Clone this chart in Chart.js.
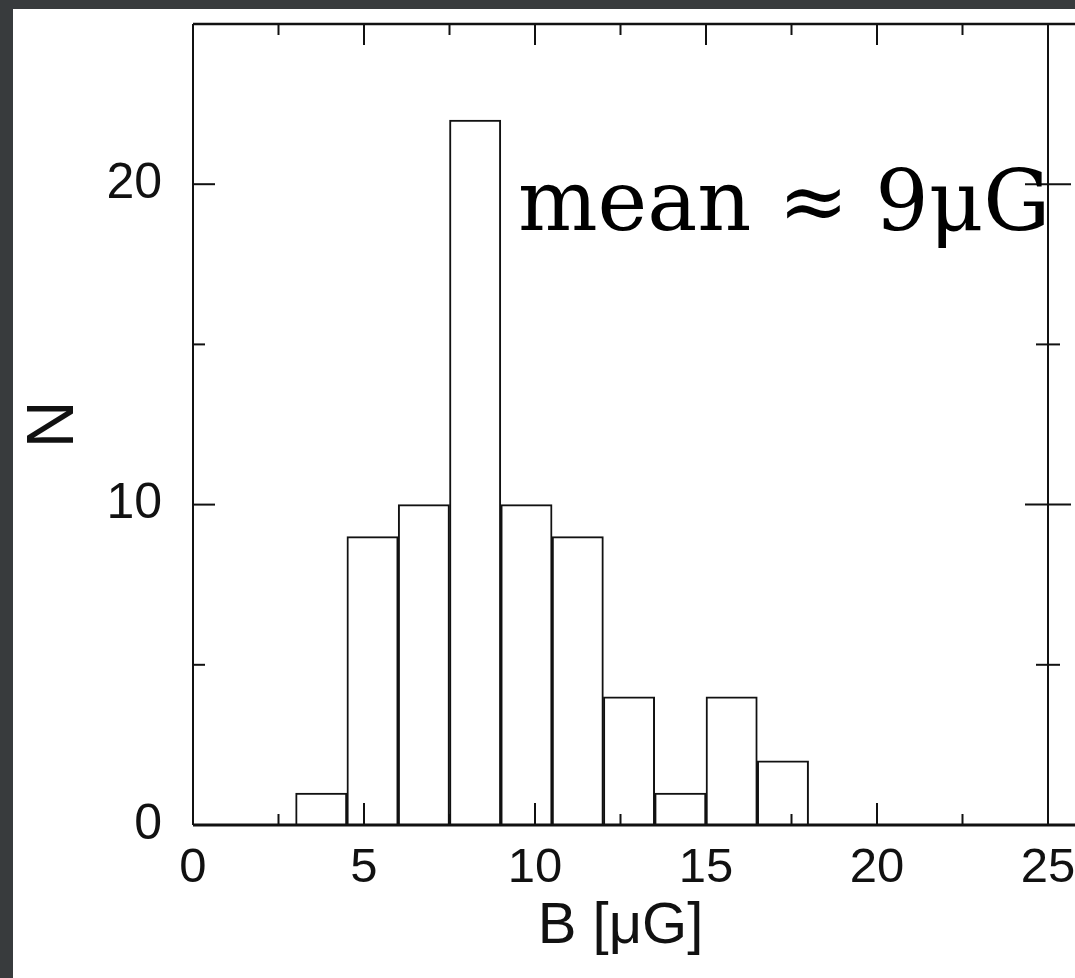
<!DOCTYPE html>
<html>
<head>
<meta charset="utf-8">
<script src="https://cdn.jsdelivr.net/npm/chart.js@4.4.1/dist/chart.umd.min.js"></script>
<style>
  body { margin: 0; background: #383b3d; overflow: hidden; width: 1075px; height: 978px; }
  #panel { position: absolute; left: 13px; top: 9px; width: 1062px; height: 969px; background: #fff; overflow: hidden; }
  canvas { display: block; }
</style>
</head>
<body>
<div id="panel">
  <canvas id="histChart" width="1100" height="969"></canvas>
</div>
<script>
// histogram bins (B in microgauss) and counts
const binEdges = [3, 4.5, 6, 7.5, 9, 10.5, 12, 13.5, 15, 16.5, 18];
const binCounts = [1, 9, 10, 22, 10, 9, 4, 1, 4, 2];

// axis ticks
const xMajorTicks = [0, 5, 10, 15, 20, 25];
const xMinorTicks = [2.5, 7.5, 12.5, 17.5, 22.5];
const yMajorTicks = [0, 10, 20];
const yMinorTicks = [5, 15];

const noteText = 'mean \u2248 9\u03BCG';
const notePos = { x: 9.5, y: 18.56 };

const binCenters = binCounts.map((_, i) => (binEdges[i] + binEdges[i + 1]) / 2);
const histData = binCenters.map((c, i) => ({ x: c, y: binCounts[i] }));

const sansFont = "'Liberation Sans', Arial, sans-serif";
const ink = '#111';

// frame, inward ticks and the mean note
const frameAndTicks = {
  id: 'frameAndTicks',
  afterDatasetsDraw(chart) {
    const { ctx, chartArea: a, scales: { x, y } } = chart;
    ctx.save();
    ctx.strokeStyle = ink;
    ctx.lineCap = 'butt';

    const line = (x1, y1, x2, y2, w) => {
      ctx.lineWidth = w;
      ctx.beginPath();
      ctx.moveTo(x1, y1);
      ctx.lineTo(x2, y2);
      ctx.stroke();
    };

    // box
    line(a.left, a.bottom, a.right + 60, a.bottom, 3);
    line(a.left, a.top, a.right + 60, a.top, 2.5);
    line(a.left, a.top, a.left, a.bottom, 2);
    line(a.right, a.top, a.right, a.bottom, 2);

    // x ticks (bottom and top, inward)
    xMajorTicks.forEach(v => {
      const px = x.getPixelForValue(v);
      line(px, a.bottom, px, a.bottom - 22, 2);
      line(px, a.top, px, a.top + 21, 2);
    });
    xMinorTicks.forEach(v => {
      const px = x.getPixelForValue(v);
      line(px, a.bottom, px, a.bottom - 11, 2);
      line(px, a.top, px, a.top + 11, 2);
    });

    // y ticks (left inward, right crossing)
    yMajorTicks.forEach(v => {
      const py = y.getPixelForValue(v);
      line(a.left, py, a.left + 22, py, 2);
      if (v > 0) line(a.right - 23, py, a.right + 23, py, 2);
    });
    yMinorTicks.forEach(v => {
      const py = y.getPixelForValue(v);
      line(a.left, py, a.left + 12, py, 2);
      line(a.right - 12, py, a.right + 12, py, 2);
    });

    // note
    ctx.fillStyle = '#000';
    ctx.font = "84px 'DejaVu Serif', serif";
    ctx.textAlign = 'left';
    ctx.textBaseline = 'alphabetic';
    ctx.fillText(noteText, x.getPixelForValue(notePos.x), y.getPixelForValue(notePos.y));
    ctx.restore();
  }
};

const ctx = document.getElementById('histChart').getContext('2d');
new Chart(ctx, {
  type: 'bar',
  data: {
    datasets: [{
      data: histData,
      backgroundColor: '#fff',
      borderColor: ink,
      borderWidth: 2,
      barPercentage: 1,
      categoryPercentage: 1
    }]
  },
  options: {
    responsive: false,
    animation: false,
    devicePixelRatio: 1,
    layout: { padding: { top: 15, right: 65, bottom: 0, left: 0 } },
    plugins: {
      legend: { display: false },
      tooltip: { enabled: false }
    },
    scales: {
      x: {
        type: 'linear',
        offset: false,
        min: 0,
        max: 25,
        grid: { display: false, offset: false },
        border: { display: false },
        ticks: {
          stepSize: 5,
          includeBounds: false,
          padding: 6,
          color: ink,
          font: { family: sansFont, size: 49 },
          maxRotation: 0
        },
        title: {
          display: true,
          text: 'B [\u03BCG]',
          color: ink,
          font: { family: sansFont, size: 58, lineHeight: 1 },
          padding: { top: 0, bottom: 22 }
        },
        afterFit: s => { s.height = 153; }
      },
      y: {
        min: 0,
        max: 25,
        grid: { display: false },
        border: { display: false },
        ticks: {
          stepSize: 10,
          includeBounds: false,
          padding: 23,
          color: ink,
          font: { family: sansFont, size: 50 }
        },
        title: {
          display: true,
          text: 'N',
          color: ink,
          font: { family: sansFont, size: 66, lineHeight: 1 },
          padding: { top: 9, bottom: 0 }
        },
        afterFit: s => { s.width = 180; s.paddingTop = 0; }
      }
    }
  },
  plugins: [frameAndTicks]
});
</script>
</body>
</html>
